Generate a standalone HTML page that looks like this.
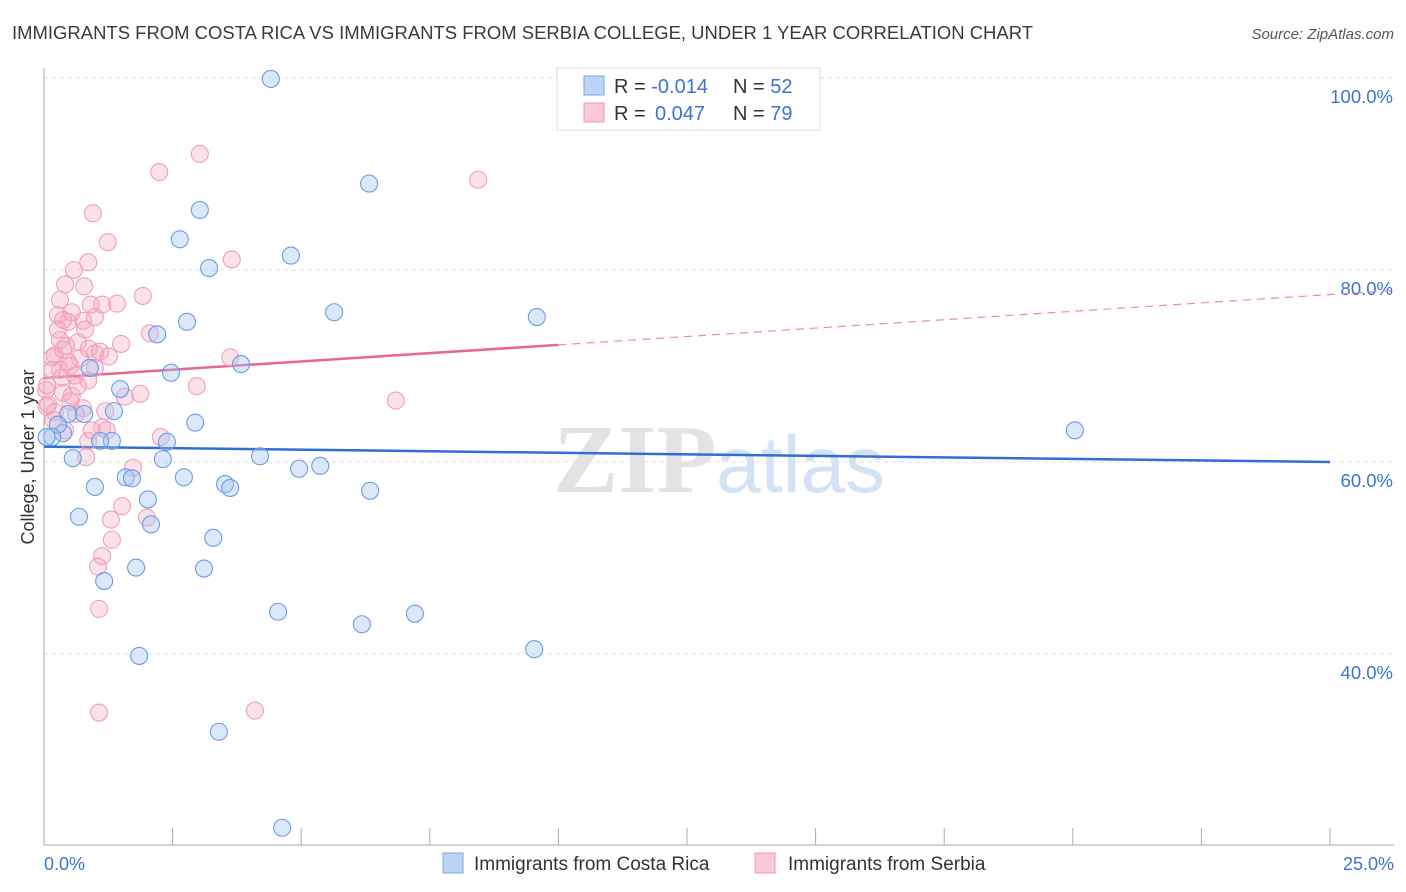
<!DOCTYPE html>
<html><head><meta charset="utf-8"><style>
body{margin:0;background:#fff;font-family:"Liberation Sans",sans-serif;}
</style></head><body>
<svg id="chart" width="1406" height="892" xmlns="http://www.w3.org/2000/svg" style="display:block">
<text x="12" y="39" font-size="18" fill="#3a3a3a" textLength="1021" lengthAdjust="spacingAndGlyphs">IMMIGRANTS FROM COSTA RICA VS IMMIGRANTS FROM SERBIA COLLEGE, UNDER 1 YEAR CORRELATION CHART</text>
<text x="1394" y="39" font-size="15" fill="#555" text-anchor="end" font-style="italic">Source: ZipAtlas.com</text>
<g>
<text x="553" y="492" font-size="98" fill="#d8d8d8" font-family="Liberation Serif,serif" font-weight="bold" opacity="0.7">ZIP</text>
<text x="716" y="492" font-size="80" fill="#b8d0f0" opacity="0.6">atlas</text>
</g>
<g id="grid"></g>
<g id="axes"></g>
<g id="trends"></g>
<g id="points"></g>
<g>
<rect x="557" y="68" width="263" height="62" fill="#fff" stroke="#ddd"/>
<rect x="584" y="76" width="20" height="19" fill="#bcd4f5" stroke="#7aa6e6"/>
<rect x="584" y="103" width="20" height="19" fill="#fac8d7" stroke="#ef9ab4"/>
<text x="614" y="93" font-size="20" fill="#333">R = <tspan fill="#3a74d8">-0.014</tspan><tspan x="733">N = </tspan><tspan fill="#3a74d8">52</tspan></text>
<text x="614" y="120" font-size="20" fill="#333">R = <tspan fill="#3a74d8" x="655">0.047</tspan><tspan x="733">N = </tspan><tspan fill="#3a74d8">79</tspan></text>
</g>
<text transform="translate(34,457) rotate(-90)" font-size="18" fill="#333" text-anchor="middle">College, Under 1 year</text>
<text x="44" y="870" font-size="18" fill="#3a74d8">0.0%</text>
<text x="1394" y="870" font-size="18" fill="#3a74d8" text-anchor="end">25.0%</text>
<g>
<rect x="443" y="853" width="20" height="20" fill="#bcd4f5" stroke="#7aa6e6"/>
<text x="474" y="870" font-size="19" fill="#333">Immigrants from Costa Rica</text>
</g>
<g>
<rect x="755" y="853" width="20" height="20" fill="#fac8d7" stroke="#ef9ab4"/>
<text x="788" y="870" font-size="19" fill="#333">Immigrants from Serbia</text>
</g>
</svg>
<script>
const blueX=[4.41,6.32,3.03,2.64,4.80,3.21,5.64,9.58,2.78,2.20,3.83,2.47,0.89,1.48,1.36,0.47,0.78,2.94,20.04,0.37,0.27,1.32,1.09,0.16,2.39,0.56,2.31,4.20,5.37,4.96,2.72,1.59,1.71,0.99,3.52,3.62,6.34,2.02,0.68,2.08,3.29,1.79,1.17,3.11,4.55,7.21,6.18,9.53,1.85,3.40,4.63,0.05];
const blueY=[99.9,89.0,86.25,83.2,81.5,80.2,75.6,75.1,74.6,73.3,70.2,69.3,69.8,67.6,65.3,65.0,65.0,64.1,63.3,63.0,63.9,62.2,62.2,62.6,62.1,60.4,60.3,60.6,59.6,59.3,58.4,58.4,58.3,57.4,57.7,57.3,57.0,56.1,54.3,53.5,52.1,49.0,47.6,48.9,44.4,44.2,43.1,40.5,39.8,31.9,21.9,62.6];
const pinkX=[3.03,2.24,8.44,0.95,1.24,3.65,0.86,0.58,0.41,0.78,1.92,1.42,0.91,1.13,0.27,0.76,0.47,0.37,0.54,2.06,1.50,0.31,0.66,0.87,1.09,0.99,0.21,0.16,3.62,0.70,0.31,0.51,0.99,0.86,2.97,0.37,1.57,0.54,1.87,0.76,0.51,0.62,6.84,0.08,0.21,1.13,1.22,0.86,2.27,0.93,0.82,1.73,0.41,0.04,1.52,1.30,2.00,1.32,1.13,1.05,1.07,1.07,4.10,0.16,0.06,0.37,1.26,0.27,0.60,0.47,0.80,0.18,0.31,0.99,0.43,0.66,1.19,0.35,0.05];
const pinkY=[92.1,90.2,89.4,85.9,82.9,81.1,80.8,80.0,78.5,78.3,77.3,76.5,76.4,76.4,75.3,74.7,74.6,74.8,75.6,73.4,72.3,72.7,72.5,71.8,71.5,71.3,71.1,70.9,70.9,70.8,69.6,70.0,69.8,68.5,67.9,67.2,66.8,66.9,67.1,65.6,66.3,65.0,66.4,66.0,65.2,63.6,63.3,62.2,62.6,63.3,60.5,59.4,63.3,67.5,55.4,54.0,54.2,51.9,50.2,49.1,44.7,33.9,34.1,69.6,68.0,71.7,71.0,73.8,69.0,70.4,73.8,64.4,76.9,75.1,72.1,67.9,65.3,68.8,65.8];
const yTicks=[100,80,60,40];
const yTickLabels=["100.0%","80.0%","60.0%","40.0%"];
const xTicks=[0,2.5,5,7.5,10,12.5,15,17.5,20,22.5,25];
const blueTrendX=[0,25], blueTrendY=[61.6,60.0];
const pinkTrendX=[0,10,26.3], pinkTrendY=[68.75,72.2,77.9];

const NS="http://www.w3.org/2000/svg";
const sx=v=>44+v*51.44;
const sy=v=>462-(v-60)*9.6;
function mk(tag,attrs,parent){const e=document.createElementNS(NS,tag);for(const k in attrs)e.setAttribute(k,attrs[k]);parent.appendChild(e);return e;}
const grid=document.getElementById('grid'),axes=document.getElementById('axes'),trends=document.getElementById('trends'),pts=document.getElementById('points');
yTicks.forEach((t,i)=>{
  const l=mk('line',{x1:44,x2:1394,y1:sy(t),y2:sy(t),stroke:'#e2e2e2','stroke-dasharray':'4,4'},grid);
  
  
  const tx=mk('text',{x:1393,y:sy(t)+25,'font-size':18.5,fill:'#3a74d8','text-anchor':'end'},grid);
  tx.textContent=yTickLabels[i];
  
  
});
const ya=mk('line',{x1:44,x2:44,y1:68,y2:845,stroke:'#aaa'},axes);


const xa=mk('line',{x1:44,x2:1394,y1:845,y2:845,stroke:'#aaa'},axes);


xTicks.forEach(t=>{
  const l=mk('line',{x1:sx(t),x2:sx(t),y1:828,y2:845,stroke:'#aaa'},axes);
  
  
});
function dot(x,y,fill,stroke,name){
  const c=mk('circle',{cx:sx(x),cy:sy(y),r:8.5,fill:fill,stroke:stroke,'stroke-width':1.1},pts);
  
  
}
pinkX.forEach((x,i)=>dot(x,pinkY[i],'rgba(244,170,195,0.35)','#f0a0ba','serbia-point'));
blueX.forEach((x,i)=>dot(x,blueY[i],'rgba(165,198,240,0.4)','#6a9de2','costa-rica-point'));
const bt=mk('line',{x1:sx(blueTrendX[0]),y1:sy(blueTrendY[0]),x2:sx(blueTrendX[1]),y2:sy(blueTrendY[1]),stroke:'#2f6fd3','stroke-width':2.5},trends);


const pt=mk('line',{x1:sx(pinkTrendX[0]),y1:sy(pinkTrendY[0]),x2:sx(pinkTrendX[1]),y2:sy(pinkTrendY[1]),stroke:'#e8668f','stroke-width':2.5},trends);


const pd=mk('line',{x1:sx(pinkTrendX[1]),y1:sy(pinkTrendY[1]),x2:sx(pinkTrendX[2]),y2:sy(pinkTrendY[2]),stroke:'#ec8aa8','stroke-width':1.2,'stroke-dasharray':'8,6'},trends);


</script>
</body></html>
